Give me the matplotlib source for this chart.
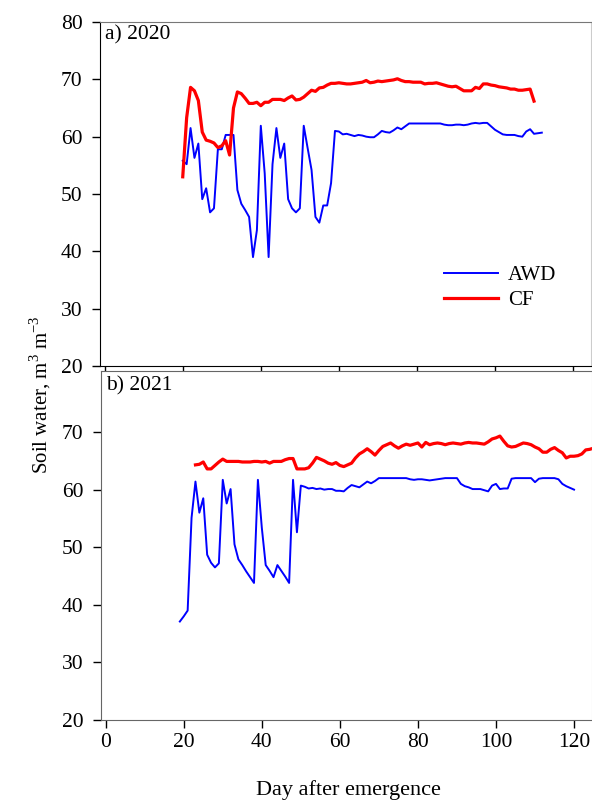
import matplotlib
matplotlib.use('Agg')
import matplotlib.pyplot as plt

plt.rcParams['font.family'] = ['Liberation Serif', 'DejaVu Serif']
plt.rcParams['mathtext.fontset'] = 'custom'
plt.rcParams['mathtext.rm'] = 'Liberation Serif'

# 2020 season
awd_2020_days = list(range(20, 113))
awd_2020 = [55.8, 55.2, 61.5, 56.3, 58.8, 49.1, 51.0, 46.8, 47.5, 57.8,
            57.8, 60.3, 60.3, 60.3, 50.7, 48.3, 47.2, 46.0, 39.0, 43.7,
            61.9, 53.6, 39.0, 55.2, 61.5, 56.3, 58.8, 49.1, 47.5, 46.8,
            47.5, 61.9, 58.0, 54.2, 46.0, 45.0, 48.0, 48.0, 51.9, 61.0,
            60.9, 60.4, 60.5, 60.3, 60.1, 60.3, 60.2, 60.0, 59.9, 59.9,
            60.4, 61.0, 60.8, 60.7, 61.1, 61.6, 61.3, 61.8, 62.3, 62.3,
            62.3, 62.3, 62.3, 62.3, 62.3, 62.3, 62.3, 62.1, 62.0, 62.0,
            62.1, 62.1, 62.0, 62.1, 62.3, 62.4, 62.3, 62.4, 62.4, 61.8,
            61.2, 60.8, 60.4, 60.3, 60.3, 60.3, 60.1, 60.0, 60.9, 61.3,
            60.5, 60.6, 60.7]
cf_2020_days = list(range(20, 111))
cf_2020 = [53.0, 63.3, 68.6, 68.0, 66.3, 60.8, 59.4, 59.2, 58.9, 58.1,
           58.4, 59.3, 56.8, 65.0, 67.8, 67.5, 66.7, 65.8, 65.8, 66.0,
           65.4, 66.0, 66.0, 66.5, 66.5, 66.5, 66.3, 66.75, 67.1, 66.4,
           66.5, 66.9, 67.5, 68.1, 67.9, 68.5, 68.6, 69.0, 69.3, 69.3,
           69.4, 69.3, 69.2, 69.2, 69.3, 69.4, 69.5, 69.8, 69.4, 69.5,
           69.7, 69.6, 69.7, 69.8, 69.9, 70.1, 69.8, 69.6, 69.6, 69.5,
           69.5, 69.5, 69.2, 69.3, 69.3, 69.4, 69.2, 69.0, 68.8, 68.7,
           68.8, 68.4, 68.0, 68.0, 68.0, 68.6, 68.4, 69.2, 69.2, 69.0,
           68.9, 68.7, 68.6, 68.5, 68.3, 68.3, 68.1, 68.1, 68.2, 68.3,
           66.2]

# 2021 season
awd_2021_days = list(range(19, 121))
awd_2021 = [37.1, 38.0, 39.0, 55.1, 61.4, 56.0, 58.5, 48.7, 47.3, 46.5,
            47.2, 61.7, 57.6, 60.1, 50.5, 47.9, 46.9, 45.8, 44.8, 43.8,
            61.7, 53.4, 46.9, 45.9, 44.8, 46.9, 45.9, 44.9, 43.8, 61.7,
            52.6, 60.7, 60.5, 60.2, 60.3, 60.1, 60.2, 60.0, 60.1, 60.1,
            59.8, 59.8, 59.7, 60.3, 60.8, 60.6, 60.4, 60.9, 61.4, 61.1,
            61.5, 62.0, 62.0, 62.0, 62.0, 62.0, 62.0, 62.0, 62.0, 61.8,
            61.7, 61.8, 61.8, 61.7, 61.6, 61.7, 61.8, 61.9, 62.0, 62.0,
            62.0, 62.0, 61.0, 60.6, 60.4, 60.1, 60.1, 60.1, 59.9, 59.7,
            60.7, 61.0, 60.1, 60.2, 60.2, 61.9, 62.0, 62.0, 62.0, 62.0,
            62.0, 61.3, 61.9, 62.0, 62.0, 62.0, 62.0, 61.8, 61.0, 60.6,
            60.3, 60.0]
cf_2021_days = list(range(23, 126))
cf_2021 = [64.3, 64.4, 64.8, 63.6, 63.6, 64.2, 64.8, 65.3, 64.9, 64.9,
           64.9, 64.9, 64.8, 64.8, 64.8, 64.9, 64.9, 64.8, 64.9, 64.6,
           64.9, 64.9, 64.9, 65.2, 65.4, 65.4, 63.6, 63.6, 63.6, 63.8,
           64.6, 65.6, 65.3, 65.0, 64.6, 64.4, 64.7, 64.2, 64.0, 64.3,
           64.6, 65.5, 66.2, 66.6, 67.1, 66.6, 66.0, 66.8, 67.5, 67.8,
           68.1, 67.6, 67.2, 67.6, 67.9, 67.7, 67.9, 68.1, 67.4, 68.2,
           67.8, 68.0, 68.1, 68.0, 67.8, 68.0, 68.1, 68.0, 67.9, 68.1,
           68.2, 68.1, 68.1, 68.0, 67.9, 68.3, 68.8, 69.0, 69.3, 68.4,
           67.6, 67.4, 67.5, 67.8, 68.1, 68.0, 67.8, 67.4, 67.1, 66.5,
           66.5, 67.0, 67.3, 66.8, 66.4, 65.5, 65.8, 65.8, 65.9, 66.2,
           66.9, 67.0, 67.2]

x_ticks = [0, 20, 40, 60, 80, 100, 120]

fig = plt.figure(figsize=(5.92, 8.01), dpi=100)
ax1 = fig.add_axes([100/592, 1-366/801, 491/592, 344/801])
ax2 = fig.add_axes([101/592, 1-720/801, 491/592, 349/801])

# top panel
ax1.plot(awd_2020_days, awd_2020, color='#0000ff', lw=1.4, label='AWD')
ax1.plot(cf_2020_days, cf_2020, color='#ff0000', lw=2.3, label='CF')
ax1.set_ylim(20, 80)
ax1.set_yticks(range(20, 81, 10))
ax1.text(0.011, 0.99, 'a) 2020', transform=ax1.transAxes, fontsize=15.5,
         va='top', ha='left')
ax1.legend(loc='center left', bbox_to_anchor=(0.70, 0.227), frameon=False,
           fontsize=15, handlelength=2.6, handletextpad=0.5,
           borderpad=0, borderaxespad=0, labelspacing=0.25)

# bottom panel
ax2.plot(awd_2021_days, awd_2021, color='#0000ff', lw=1.4)
ax2.plot(cf_2021_days, cf_2021, color='#ff0000', lw=2.3)
ax2.set_ylim(20, 80.6)
ax2.set_yticks(range(20, 71, 10))
ax2.text(0.011, 0.985, 'b) 2021', transform=ax2.transAxes, fontsize=15.5,
         va='top', ha='left')

for ax in (ax1, ax2):
    ax.set_xlim(-1.2, 124.6)
    ax.set_xticks(x_ticks)
    ax.tick_params(direction='out', length=5.5, width=1, labelsize=15.5)
    ax.tick_params(axis='y', pad=7)
    ax.tick_params(axis='x', pad=4)
ax1.tick_params(axis='x', labelbottom=False)

ax1.spines['left'].set_color('black')
ax1.spines['bottom'].set_color('black')
ax1.spines['top'].set_color('#777777')
ax1.spines['right'].set_color('#cccccc')
for s in ax2.spines.values():
    s.set_color('#666666')
ax2.spines['right'].set_color('#cccccc')

fig.text(40/592, 1-395/801, 'Soil water, m$^3$ m$^{-3}$', rotation=90,
         ha='center', va='center', fontsize=15)
fig.text(348/592, 1-790/801, 'Day after emergence', ha='center',
         va='center', fontsize=16)

fig.savefig('out.png', dpi=100)
